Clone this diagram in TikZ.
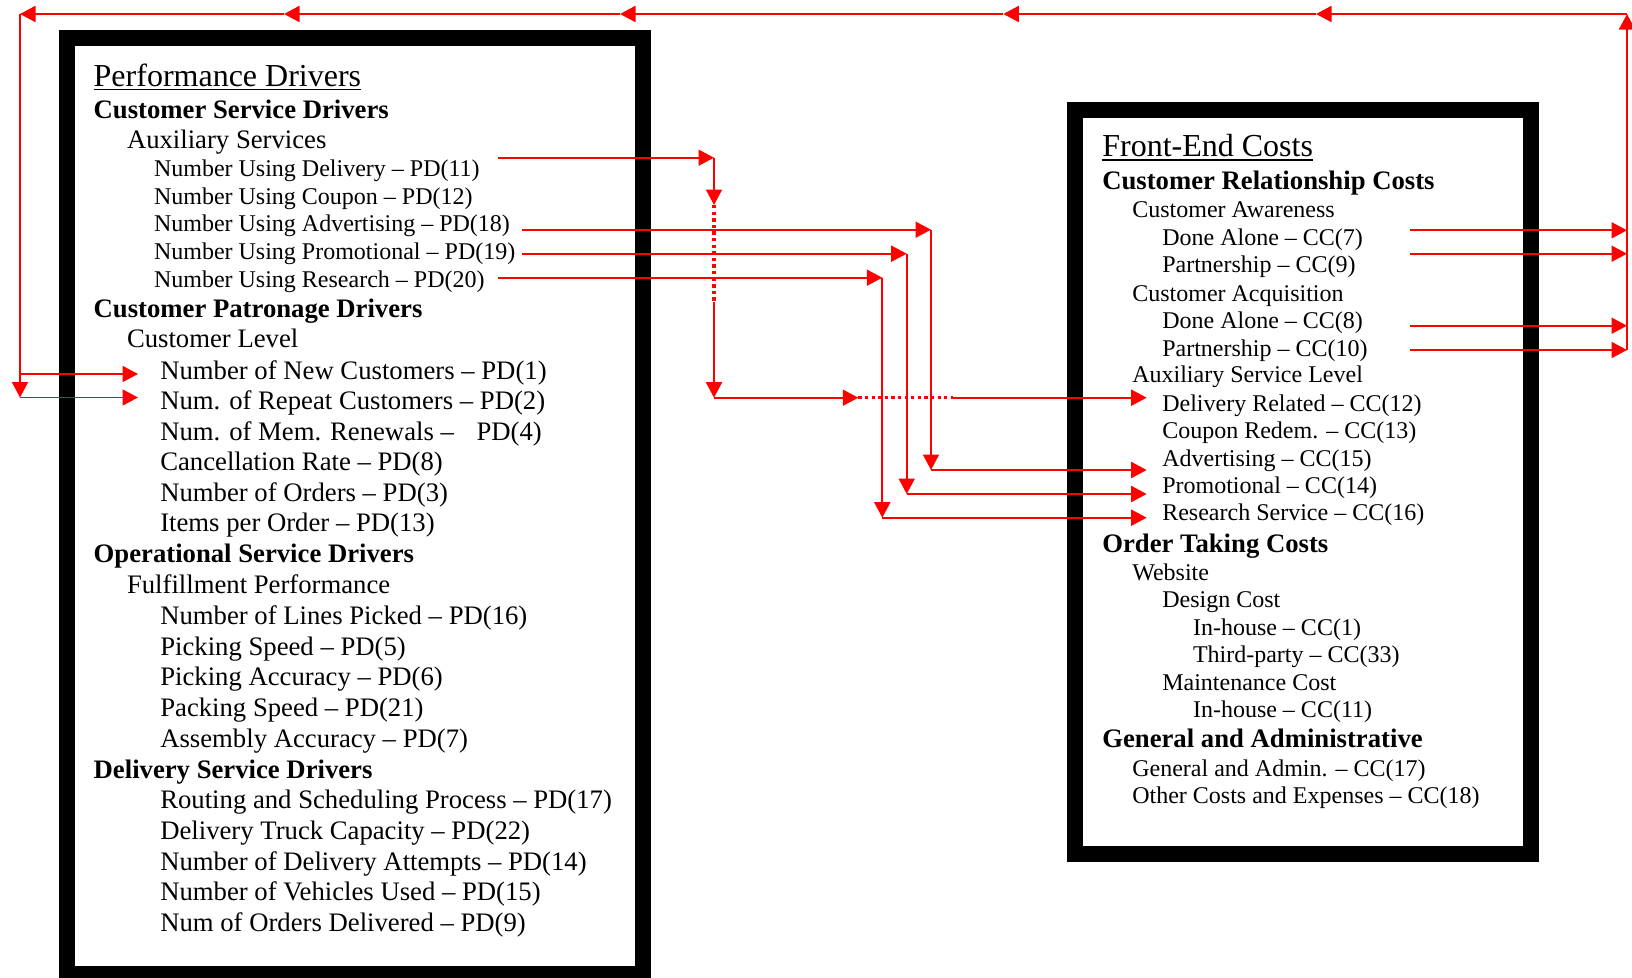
\documentclass[tikz,border=0pt]{standalone}
\usepackage{fontspec}
\setmainfont{Liberation Serif}
\usetikzlibrary{arrows.meta}
\definecolor{flow}{RGB}{255,0,0}

\begin{document}
\begin{tikzpicture}[x=1pt,y=-1pt,
  txt/.style={anchor=base west, inner sep=0pt, outer sep=0pt},
  ttl/.style={txt, font=\fontsize{32}{36}\selectfont},
  hd/.style={txt, font=\fontsize{26.7}{30}\selectfont\bfseries},
  lg/.style={txt, font=\fontsize{26.7}{30}\selectfont},
  sm/.style={txt, font=\fontsize{24}{28}\selectfont},
  frame/.style={draw=black, line width=16pt},
  uline/.style={draw=black, line width=1.6pt},
  flowline/.style={draw=flow, line width=1.8pt},
  flowarrow/.style={flowline, -{Triangle[length=15.5pt,width=16pt]}},
  flowdots/.style={draw=flow, line width=3.3pt, dash pattern=on 3.3pt off 3.3pt},
]
\useasboundingbox (0,0) rectangle (1632,977);

% ---------- frames ----------
\draw[frame] (67.2,38) rectangle (643,974);
\draw[frame] (1075,110) rectangle (1531,854);

% ---------- performance drivers ----------
\node[ttl] (pdtitle) at (93.7,86) {Performance Drivers};
\draw[uline] ([yshift=-3.3pt]pdtitle.base west) -- ([yshift=-3.3pt]pdtitle.base east);
\node[hd] (csd)  at (93.7,118.2) {Customer Service Drivers};
\node[lg] (aux)  at (127,148.8)  {Auxiliary Services};
\node[sm] (pd11) at (154,176.3)  {Number Using Delivery -- PD(11)};
\node[sm] (pd12) at (154,204.1)  {Number Using Coupon -- PD(12)};
\node[sm] (pd18) at (154,231.9)  {Number Using Advertising -- PD(18)};
\node[sm] (pd19) at (154,259.7)  {Number Using Promotional -- PD(19)};
\node[sm] (pd20) at (154,287.5)  {Number Using Research -- PD(20)};
\node[hd] (cpd)  at (93.7,317.5) {Customer Patronage Drivers};
\node[lg] (clev) at (127,347.5)  {Customer Level};
\node[lg] (pd1)  at (160.3,379.0) {Number of New Customers -- PD(1)};
\node[lg] (pd2)  at (160.3,409.5) {Num. of Repeat Customers -- PD(2)};
\node[lg] (pd4)  at (160.3,440.0) {Num. of Mem. Renewals --\hspace{16pt} PD(4)};
\node[lg] (pd8)  at (160.3,470.6) {Cancellation Rate -- PD(8)};
\node[lg] (pd3)  at (160.3,501.1) {Number of Orders -- PD(3)};
\node[lg] (pd13) at (160.3,531.7) {Items per Order -- PD(13)};
\node[hd] (osd)  at (93.7,562.4)  {Operational Service Drivers};
\node[lg] (ffp)  at (127,593.2)   {Fulfillment Performance};
\node[lg] (pd16) at (160.3,624.0) {Number of Lines Picked -- PD(16)};
\node[lg] (pd5)  at (160.3,655.0) {Picking Speed -- PD(5)};
\node[lg] (pd6)  at (160.3,685.9) {Picking Accuracy -- PD(6)};
\node[lg] (pd21) at (160.3,716.7) {Packing Speed -- PD(21)};
\node[lg] (pd7)  at (160.3,747.4) {Assembly Accuracy -- PD(7)};
\node[hd] (dsd)  at (93.7,778.3)  {Delivery Service Drivers};
\node[lg] (pd17) at (160.3,808.9) {Routing and Scheduling Process -- PD(17)};
\node[lg] (pd22) at (160.3,839.6) {Delivery Truck Capacity -- PD(22)};
\node[lg] (pd14) at (160.3,870.2) {Number of Delivery Attempts -- PD(14)};
\node[lg] (pd15) at (160.3,900.9) {Number of Vehicles Used -- PD(15)};
\node[lg] (pd9)  at (160.3,931.5) {Num of Orders Delivered -- PD(9)};

% ---------- front-end costs ----------
\node[ttl] (fetitle) at (1102.3,156.5) {Front-End Costs};
\draw[uline] ([yshift=-3.3pt]fetitle.base west) -- ([yshift=-3.3pt]fetitle.base east);
\node[hd] (crc)  at (1102.3,189.3) {Customer Relationship Costs};
\node[sm] (caw)  at (1132.3,217.9) {Customer Awareness};
\node[sm] (cc7)  at (1162.3,245.2) {Done Alone -- CC(7)};
\node[sm] (cc9)  at (1162.3,272.9) {Partnership -- CC(9)};
\node[sm] (cac)  at (1132.3,301.2) {Customer Acquisition};
\node[sm] (cc8)  at (1162.3,328.2) {Done Alone -- CC(8)};
\node[sm] (cc10) at (1162.3,356.2) {Partnership -- CC(10)};
\node[sm] (asl)  at (1132.3,382.9) {Auxiliary Service Level};
\node[sm] (cc12) at (1162.3,411.2) {Delivery Related -- CC(12)};
\node[sm] (cc13) at (1162.3,438.9) {Coupon Redem. -- CC(13)};
\node[sm] (cc15) at (1162.3,466.2) {Advertising -- CC(15)};
\node[sm] (cc14) at (1162.3,493.9) {Promotional -- CC(14)};
\node[sm] (cc16) at (1162.3,520.5) {Research Service -- CC(16)};
\node[hd] (otc)  at (1102.3,552)   {Order Taking Costs};
\node[sm] (web)  at (1132.3,580.2) {Website};
\node[sm] (dcost) at (1162.3,607.2) {Design Cost};
\node[sm] (cc1)  at (1193,635.2)   {In-house -- CC(1)};
\node[sm] (cc33) at (1193,662.9)   {Third-party -- CC(33)};
\node[sm] (mcost) at (1162.3,690.2) {Maintenance Cost};
\node[sm] (cc11) at (1193,717.9)   {In-house -- CC(11)};
\node[hd] (gad)  at (1102.3,747.9) {General and Administrative};
\node[sm] (cc17) at (1132.3,776.2) {General and Admin. -- CC(17)};
\node[sm] (cc18) at (1132.3,803.9) {Other Costs and Expenses -- CC(18)};

% ---------- routing points ----------
% driver outlets
\coordinate (o11) at (497.8,157.7);
\coordinate (o18) at (522,229.7);
\coordinate (o19) at (522,253.7);
\coordinate (o20) at (497.8,277.7);
% delivery route
\coordinate (d1) at (714,157.7);
\coordinate (d2) at (714,205);
\coordinate (d3) at (714,301.7);
\coordinate (d4) at (714,397.7);
\coordinate (d5) at (858.3,397.7);
\coordinate (d6) at (953.3,397.7);
\coordinate (i12) at (1146.7,397.7);
% advertising, promotional, research routes
\coordinate (a1) at (931,229.7);   \coordinate (a2) at (931,470);
\coordinate (p1) at (906.7,253.7); \coordinate (p2) at (906.7,494);
\coordinate (r1) at (882.3,277.7); \coordinate (r2) at (882.3,517.7);
\coordinate (i15) at (1146.7,470);
\coordinate (i14) at (1146.7,494);
\coordinate (i16) at (1146.7,517.7);
% cost outlets and return bus
\coordinate (c7)  at (1410,230.3);  \coordinate (c7e)  at (1627,230.3);
\coordinate (c9)  at (1410,253.7);  \coordinate (c9e)  at (1627,253.7);
\coordinate (c8)  at (1410,325.7);  \coordinate (c8e)  at (1627,325.7);
\coordinate (c10) at (1410,350);    \coordinate (c10e) at (1627,350);
\coordinate (busR) at (1627,14);
\coordinate (busA) at (1316,14);
\coordinate (busB) at (1003.3,14);
\coordinate (busC) at (620,14);
\coordinate (busD) at (284,14);
\coordinate (busL) at (20,14);
\coordinate (dropT) at (20,374);
\coordinate (dropB) at (20,397.5);
\coordinate (in1) at (138,374);
\coordinate (in2) at (138,397.5);

% ---------- connectors ----------
% delivery
\draw[flowarrow] (o11) -- (d1);
\draw[flowarrow] (d1) -- (d2);
\draw[flowdots]  (d2) -- (d3);
\draw[flowarrow] (d3) -- (d4);
\draw[flowarrow] (d4) -- (d5);
\draw[flowdots]  (d5) -- (d6);
\draw[flowarrow] (d6) -- (i12);
% advertising
\draw[flowarrow] (o18) -- (a1);
\draw[flowarrow] (a1) -- (a2);
\draw[flowarrow] (a2) -- (i15);
% promotional
\draw[flowarrow] (o19) -- (p1);
\draw[flowarrow] (p1) -- (p2);
\draw[flowarrow] (p2) -- (i14);
% research
\draw[flowarrow] (o20) -- (r1);
\draw[flowarrow] (r1) -- (r2);
\draw[flowarrow] (r2) -- (i16);
% customer relationship costs back to the customer level
\draw[flowarrow] (c7) -- (c7e);
\draw[flowarrow] (c9) -- (c9e);
\draw[flowarrow] (c8) -- (c8e);
\draw[flowarrow] (c10) -- (c10e);
\draw[flowarrow] (c10e) -- (busR);
\draw[flowarrow] (busR) -- (busA);
\draw[flowarrow] (busA) -- (busB);
\draw[flowarrow] (busB) -- (busC);
\draw[flowarrow] (busC) -- (busD);
\draw[flowarrow] (busD) -- (busL);
\draw[flowarrow] (busL) -- (dropB);
\draw[flowarrow] (dropT) -- (in1);
\draw[flowarrow] (dropB) -- (in2);
\end{tikzpicture}
\end{document}
